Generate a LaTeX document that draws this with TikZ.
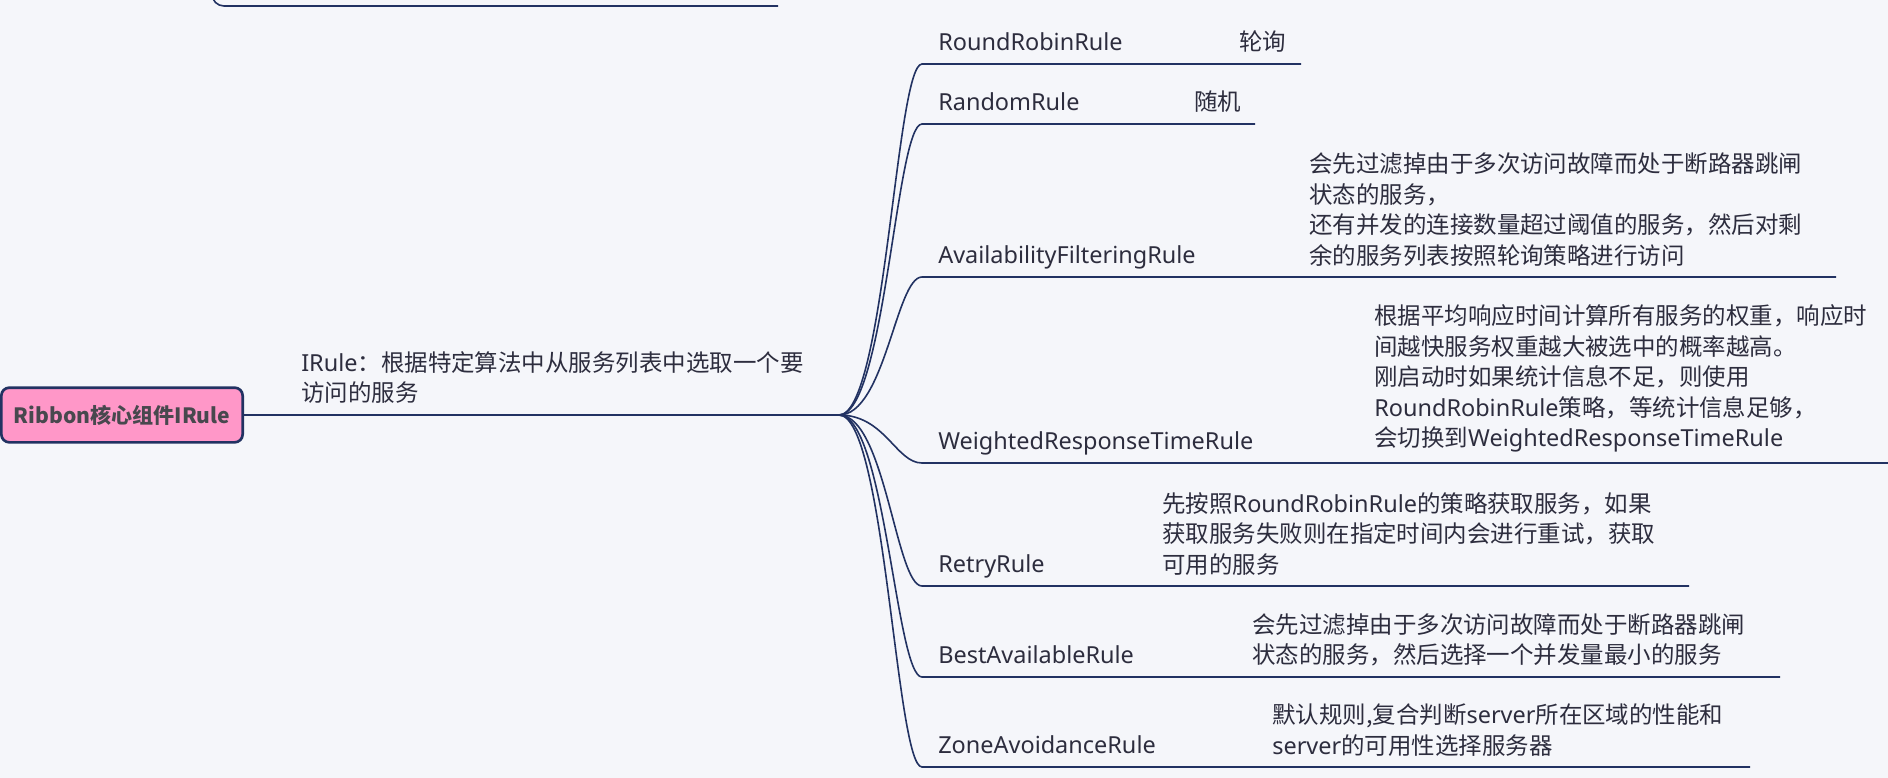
\documentclass[tikz,border=0pt]{standalone}
\usepackage{fontspec}
\setmainfont{Noto Sans}
\newfontfamily\cjk{Noto Sans CJK SC}
\newfontfamily\lat{Noto Sans}
\usetikzlibrary{positioning}
\definecolor{bgcol}{RGB}{245,246,250}
\definecolor{linecol}{RGB}{34,50,98}
\definecolor{txtcol}{RGB}{45,45,62}
\definecolor{roottxt}{RGB}{72,72,78}
\definecolor{rootcol}{RGB}{255,151,200}

\begin{document}
\begin{tikzpicture}[x=0.75pt, y=-0.75pt,
  root/.style={draw=linecol, line width=2pt, rounded corners=6pt, fill=rootcol, minimum width=181pt, minimum height=41pt, inner sep=0pt, font=\cjk\bfseries\fontsize{15.8}{20}\selectfont, text=roottxt},
  rule/.style={anchor=base west, inner sep=0pt, font=\fontsize{17.6}{22.9}\selectfont, text=txtcol},
  desc/.style={anchor=south west, inner sep=0pt, align=left, font=\cjk\fontsize{17.6}{22.9}\selectfont, text=txtcol},
  branch/.style={draw=linecol, line width=1.2pt}]
\fill[bgcol] (0,0) rectangle (1888,778);
\useasboundingbox (0,0) rectangle (1888,778);
% left part, cut off above
\coordinate (up-a) at (212,-12);
\coordinate (up-b) at (778,6);
\draw[branch, rounded corners=9pt] (up-a) |- (up-b);
\node[root] (root) at (122,415) {Ribbon核心组件IRule};
\coordinate (hub) at (839,415);
\draw[branch, line width=1.5pt] (root) -- (hub);
\node[desc] (irule) at (301,404) {{\lat IRule}：根据特定算法中从服务列表中选取一个要\\访问的服务};
% branch ends
\foreach \n/\y/\e in {rr/64/1301, rd/124/1255, af/277/1836, wr/463/1888, rt/586/1689, ba/677/1780, za/767/1750} {
  \coordinate (\n-s) at (922,\y);
  \coordinate (\n-e) at (\e,\y);
}
\foreach \n in {rr, rd, af, wr, rt, ba, za} { \draw[branch] (hub) .. controls +(46,0) and +(-26,0) .. (\n-s) -- (\n-e); }
\node[rule] (rr) at (938,50.5)  {RoundRobinRule};
\node[rule] (rd) at (938,110.5) {RandomRule};
\node[rule] (af) at (938,263.5) {AvailabilityFilteringRule};
\node[rule] (wr) at (938,449.5) {WeightedResponseTimeRule};
\node[rule] (rt) at (938,572.5) {RetryRule};
\node[rule] (ba) at (938,663.5) {BestAvailableRule};
\node[rule] (za) at (938,753.5) {ZoneAvoidanceRule};
\node[rule, font=\cjk\fontsize{17.6}{22.9}\selectfont] (rr-d) at (1239,50.5) {轮询};
\node[rule, font=\cjk\fontsize{17.6}{22.9}\selectfont] (rd-d) at (1194,110.5) {随机};
\node[desc] (af-d) at (1309,266.5) {会先过滤掉由于多次访问故障而处于断路器跳闸\\状态的服务，\\还有并发的连接数量超过阈值的服务，然后对剩\\余的服务列表按照轮询策略进行访问};
\node[desc] (wr-d) at (1374,452.5) {根据平均响应时间计算所有服务的权重，响应时\\间越快服务权重越大被选中的概率越高。\\刚启动时如果统计信息不足，则使用\\{\lat RoundRobinRule}策略，等统计信息足够，\\会切换到{\lat WeightedResponseTimeRule}};
\node[desc] (rt-d) at (1162,575.5) {先按照{\lat RoundRobinRule}的策略获取服务，如果\\获取服务失败则在指定时间内会进行重试，获取\\可用的服务};
\node[desc] (ba-d) at (1252,666.5) {会先过滤掉由于多次访问故障而处于断路器跳闸\\状态的服务，然后选择一个并发量最小的服务};
\node[desc] (za-d) at (1272,756.5) {默认规则,复合判断{\lat server}所在区域的性能和\\{\lat server}的可用性选择服务器};
\end{tikzpicture}
\end{document}
